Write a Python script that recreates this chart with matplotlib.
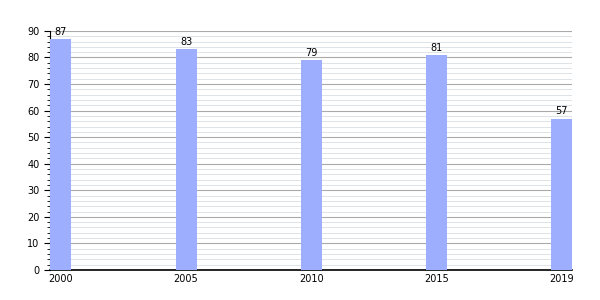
import matplotlib
matplotlib.use("Agg")
import matplotlib.pyplot as plt
from matplotlib.ticker import MultipleLocator

years = ["2000", "2005", "2010", "2015", "2019"]
values = [87, 83, 79, 81, 57]

bar_w = 0.168
pos = list(range(len(years)))

fig = plt.figure(figsize=(6, 3), dpi=100)
ax = fig.add_axes([0.083, 0.1, 0.87, 0.797])

ax.bar(pos, values, width=bar_w, align="edge", color="#9daeff", zorder=3)
for p, v in zip(pos, values):
    ax.text(p + bar_w / 2, v + 0.8, str(v), ha="center", va="bottom", fontsize=7, zorder=4)

ax.set_xlim(-0.005, 4 + bar_w)
ax.set_ylim(0, 90)
ax.yaxis.set_major_locator(MultipleLocator(10))
ax.yaxis.set_minor_locator(MultipleLocator(2))
ax.grid(which="major", axis="y", color="#aaaaaa", lw=0.8, zorder=1)
ax.grid(which="minor", axis="y", color="#dde3e8", lw=0.7, zorder=0)

ax.set_xticks([p + bar_w / 2 for p in pos])
ax.set_xticklabels(years)
ax.tick_params(axis="x", length=0, labelsize=7, pad=3)
ax.tick_params(axis="y", which="major", length=4, labelsize=7)
ax.tick_params(axis="y", which="minor", length=2)

for s in ["top", "right"]:
    ax.spines[s].set_visible(False)
ax.spines["left"].set_linewidth(0.8)
ax.spines["bottom"].set_linewidth(1.2)

fig.savefig("out.png", dpi=100)
